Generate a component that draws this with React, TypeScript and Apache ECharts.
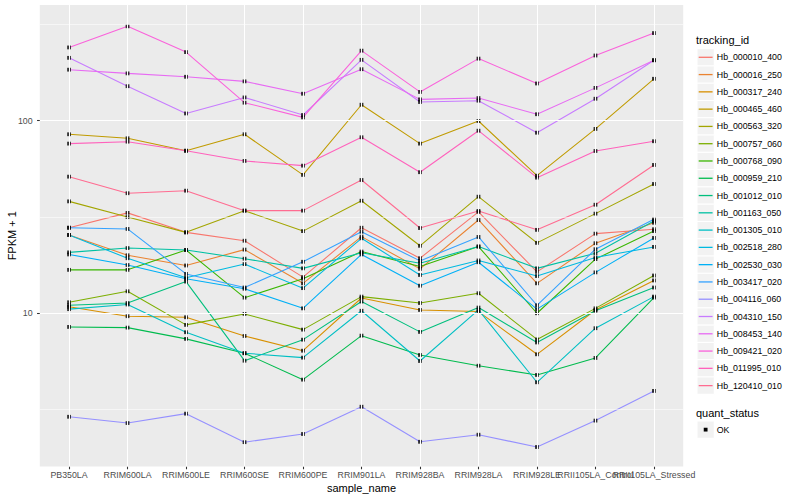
import React, { useEffect, useRef } from "react";
import * as echarts from "echarts";

const categories = [
  "PB350LA",
  "RRIM600LA",
  "RRIM600LE",
  "RRIM600SE",
  "RRIM600PE",
  "RRIM901LA",
  "RRIM928BA",
  "RRIM928LA",
  "RRIM928LE",
  "RRII105LA_Control",
  "RRII105LA_Stressed",
];

const trackingIds = [
  "Hb_000010_400",
  "Hb_000016_250",
  "Hb_000317_240",
  "Hb_000465_460",
  "Hb_000563_320",
  "Hb_000757_060",
  "Hb_000768_090",
  "Hb_000959_210",
  "Hb_001012_010",
  "Hb_001163_050",
  "Hb_001305_010",
  "Hb_002518_280",
  "Hb_002530_030",
  "Hb_003417_020",
  "Hb_004116_060",
  "Hb_004310_150",
  "Hb_008453_140",
  "Hb_009421_020",
  "Hb_011995_010",
  "Hb_120410_010",
];

const hueColors = [
  "#F8766D", "#EA8331", "#D89000", "#C09B00", "#A3A500",
  "#7CAE00", "#39B600", "#00BB4E", "#00BF7D", "#00C1A3",
  "#00BFC4", "#00BAE0", "#00B0F6", "#35A2FF", "#9590FF",
  "#C77CFF", "#E76BF3", "#FA62DB", "#FF62BC", "#FF6C91",
];

// FPKM + 1 values per gene, one per sample (categories order)
const hb_000010_400 = [27.8, 33.2, 26.3, 23.8, 15.4, 27.8, 19.3, 33.6, 16.4, 25.9, 27.3];
const hb_000016_250 = [25.5, 20.0, 17.7, 21.4, 14.3, 25.0, 17.0, 30.5, 14.3, 23.1, 29.5];
const hb_000317_240 = [10.8, 9.65, 9.53, 7.62, 6.39, 12.0, 10.4, 10.2, 6.12, 10.4, 14.8];
const hb_000465_460 = [85.0, 81.0, 69.8, 85.0, 52.3, 121, 76.0, 99.6, 51.8, 90.6, 165];
const hb_000563_320 = [38.1, 31.6, 26.3, 34.1, 26.7, 38.4, 22.4, 40.3, 23.2, 32.9, 46.9];
const hb_000757_060 = [11.4, 13.0, 8.7, 9.92, 8.22, 12.2, 11.3, 12.7, 7.31, 10.6, 15.7];
const hb_000768_090 = [16.8, 16.8, 21.3, 12.05, 15.1, 20.9, 17.5, 22.2, 10.0, 19.1, 26.7];
const hb_000959_210 = [8.49, 8.42, 7.36, 6.2, 4.52, 7.65, 6.07, 5.34, 4.78, 5.86, 12.05];
const hb_001012_010 = [11.0, 11.3, 14.6, 5.67, 7.29, 11.5, 8.0, 10.7, 7.05, 10.3, 13.6];
const hb_001163_050 = [20.7, 21.8, 21.3, 19.2, 17.1, 20.6, 18.2, 22.2, 17.1, 20.5, 30.1];
const hb_001305_010 = [10.5, 11.1, 7.97, 6.2, 5.88, 10.3, 5.65, 10.4, 4.38, 8.36, 12.2];
const hb_002518_280 = [25.5, 19.3, 15.3, 18.0, 13.5, 24.5, 15.8, 18.8, 15.6, 19.5, 22.1];
const hb_002530_030 = [20.2, 17.8, 15.1, 13.4, 10.6, 20.2, 13.9, 18.4, 10.5, 16.3, 24.6];
const hb_003417_020 = [27.8, 27.4, 16.0, 13.6, 18.5, 26.5, 18.7, 24.9, 11.0, 21.5, 30.8];
const hb_004116_060 = [2.9, 2.69, 3.01, 2.14, 2.36, 3.27, 2.15, 2.34, 2.02, 2.77, 3.95];
const hb_004310_150 = [212, 151, 109, 132, 107, 207, 125, 127, 86.6, 130, 206];
const hb_008453_140 = [184, 176, 169, 160, 138, 185, 129, 131, 108, 148, 206];
const hb_009421_020 = [240, 309, 227, 124, 104, 231, 141, 210, 156, 218, 285];
const hb_011995_010 = [76.0, 77.8, 69.8, 61.8, 58.4, 82.0, 54.0, 88.7, 50.6, 69.6, 78.2];
const hb_120410_010 = [51.2, 42.0, 43.3, 34.1, 34.1, 49.2, 27.7, 34.0, 27.1, 36.6, 58.9];

const seriesValues = [
  hb_000010_400, hb_000016_250, hb_000317_240, hb_000465_460, hb_000563_320,
  hb_000757_060, hb_000768_090, hb_000959_210, hb_001012_010, hb_001163_050,
  hb_001305_010, hb_002518_280, hb_002530_030, hb_003417_020, hb_004116_060,
  hb_004310_150, hb_008453_140, hb_009421_020, hb_011995_010, hb_120410_010,
];

const yTickValues = [10, 100];
const yMinorValues = [3.1623, 31.623, 316.23];
const quantStatus = ["OK"];

const FONT = "'Liberation Sans', Arial, Helvetica, sans-serif";

export default function App() {
  const ref = useRef<HTMLDivElement>(null);

  useEffect(() => {
    if (!ref.current) return;
    const chart = echarts.init(ref.current, null, { renderer: "svg" });

    const gridLeft = 39.8;
    const tickLen = 2.75;
    const majorLine = { color: "#FFFFFF", width: 1.07, type: "solid" };
    const minorLine = { color: "#FFFFFF", width: 0.55, type: "solid" };
    const tickLine = { color: "#333333", width: 1.07, type: "solid" };

    const gridSeries: any = {
      type: "line",
      name: "grid",
      data: [],
      z: 1,
      silent: true,
      clip: false,
      markLine: {
        silent: true,
        symbol: ["none", "none"],
        label: { show: false },
        emphasis: { disabled: true },
        animation: false,
        data: [
          ...yMinorValues.map((v) => ({ yAxis: v, lineStyle: minorLine })),
          ...yTickValues.map((v) => ({ yAxis: v, lineStyle: majorLine })),
          ...categories.map((c) => ({ xAxis: c, lineStyle: majorLine })),
          // y-axis tick marks (ggplot style: only at the breaks)
          ...yTickValues.map((v) => [
            { x: gridLeft - tickLen, yAxis: v, lineStyle: tickLine },
            { x: gridLeft, yAxis: v },
          ]),
        ],
      },
    };

    const lineSeries = trackingIds.map((name, i) => ({
      type: "line",
      name,
      data: seriesValues[i],
      showSymbol: false,
      symbol: "none",
      silent: true,
      z: 2,
      lineStyle: { color: hueColors[i], width: 1.07 },
      itemStyle: { color: hueColors[i] },
      emphasis: { disabled: true },
    }));

    const points: any[] = [];
    seriesValues.forEach((vals) => {
      vals.forEach((v, ci) => points.push([ci, v]));
    });

    const scatterSeries = {
      type: "scatter",
      name: quantStatus[0],
      data: points,
      symbol: "rect",
      symbolSize: 3.8,
      silent: true,
      z: 3,
      itemStyle: { color: "#000000" },
      emphasis: { disabled: true },
    };

    const isTick = (v: number) => {
      for (const t of yTickValues) {
        if (Math.abs(v - t) < 1e-6 * t) return t;
      }
      return null;
    };

    // legend drawn as graphic elements (ggplot style keys)
    const keyX = 697;
    const keySize = 17.28;
    const keyTop0 = 48.66;
    const legendEls: any[] = [];
    const txt = (text: string, x: number, y: number, size: number) => ({
      type: "text",
      x,
      y,
      style: {
        text,
        fill: "#000000",
        fontSize: size,
        fontFamily: FONT,
        align: "left",
        verticalAlign: "middle",
      },
    });
    legendEls.push(txt("tracking_id", 696, 40, 11));
    trackingIds.forEach((name, i) => {
      const top = keyTop0 + i * keySize;
      const cy = top + keySize / 2;
      legendEls.push({
        type: "rect",
        shape: { x: keyX, y: top, width: keySize, height: keySize },
        style: { fill: "#F2F2F2", stroke: "#FFFFFF", lineWidth: 1 },
      });
      legendEls.push({
        type: "line",
        shape: { x1: keyX + 1.7, y1: cy, x2: keyX + keySize - 1.7, y2: cy },
        style: { stroke: hueColors[i], lineWidth: 1.3 },
      });
      legendEls.push(txt(name, keyX + keySize + 2.5, cy, 8.8));
    });
    legendEls.push(txt("quant_status", 696, 412.7, 11));
    const okTop = 421;
    legendEls.push({
      type: "rect",
      shape: { x: keyX, y: okTop, width: keySize, height: keySize },
      style: { fill: "#F2F2F2", stroke: "#FFFFFF", lineWidth: 1 },
    });
    legendEls.push({
      type: "rect",
      shape: { x: keyX + keySize / 2 - 1.9, y: okTop + keySize / 2 - 1.9, width: 3.8, height: 3.8 },
      style: { fill: "#000000" },
    });
    legendEls.push(txt(quantStatus[0], keyX + keySize + 2.5, okTop + keySize / 2, 8.8));

    const option: any = {
      animation: false,
      backgroundColor: "#FFFFFF",
      textStyle: { fontFamily: FONT },
      grid: {
        left: gridLeft,
        right: 116.8,
        top: 5,
        bottom: 33.5,
        show: true,
        backgroundColor: "#EBEBEB",
        borderWidth: 0,
        containLabel: false,
        outerBoundsMode: "none",
      },
      xAxis: {
        type: "category",
        data: categories,
        boundaryGap: true,
        axisLine: { show: false },
        axisTick: {
          show: true,
          alignWithLabel: true,
          length: tickLen,
          lineStyle: { color: "#333333", width: 1.07 },
        },
        axisLabel: {
          interval: 0,
          hideOverlap: false,
          color: "#4D4D4D",
          fontSize: 8.8,
          margin: 4.4,
          fontFamily: FONT,
        },
        splitLine: { show: false },
        name: "sample_name",
        nameLocation: "middle",
        nameGap: 16,
        nameMoveOverlap: false,
        nameTextStyle: { fontSize: 11, color: "#000000", fontFamily: FONT },
      },
      yAxis: {
        type: "log",
        logBase: 10,
        min: 1.6,
        max: 398.7,
        axisLine: { show: false },
        axisTick: { show: false },
        axisLabel: {
          color: "#4D4D4D",
          fontSize: 8.8,
          margin: 4.4 + tickLen,
          fontFamily: FONT,
          formatter: (v: number) => {
            const t = isTick(v);
            return t === null ? "" : String(t);
          },
        },
        splitLine: { show: false },
        minorSplitLine: { show: false },
        name: "FPKM + 1",
        nameLocation: "middle",
        nameGap: 22,
        nameRotate: 90,
        nameMoveOverlap: false,
        nameTextStyle: { fontSize: 11, color: "#000000", fontFamily: FONT },
      },
      graphic: { elements: legendEls },
      series: [gridSeries, ...lineSeries, scatterSeries],
    };

    chart.setOption(option);
    return () => {
      chart.dispose();
    };
  }, []);

  return (
    <div
      ref={ref}
      style={{ position: "fixed", left: 0, top: 0, width: 800, height: 500 }}
    />
  );
}
